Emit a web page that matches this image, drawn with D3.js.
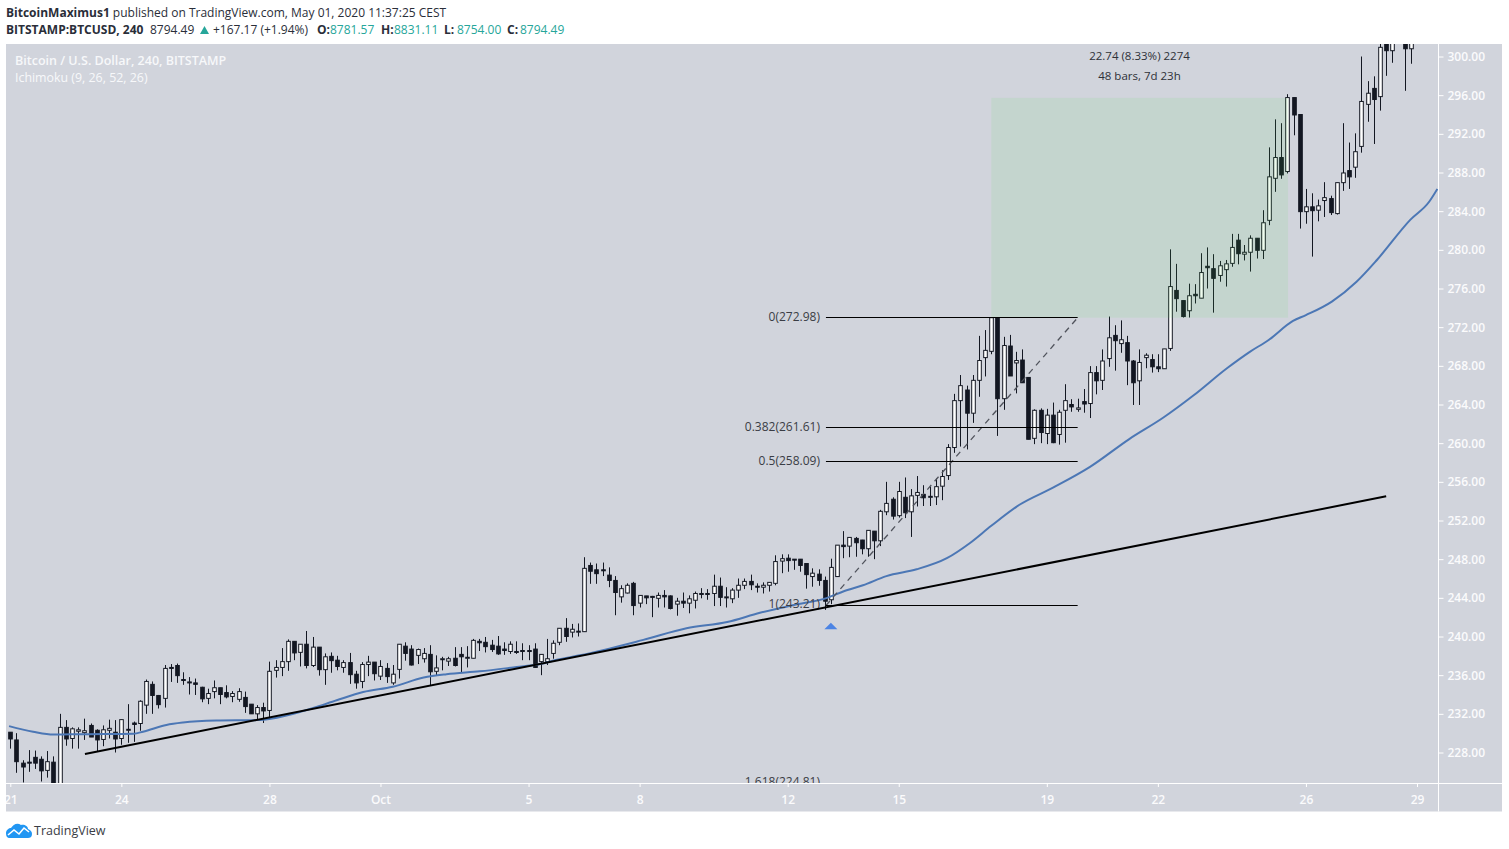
<!DOCTYPE html>
<html>
<head>
<meta charset="utf-8">
<script src="https://cdn.jsdelivr.net/npm/d3@7"></script>
<style>
  html, body { margin: 0; padding: 0; background: #fff; }
  svg { display: block; }
  text { font-family: "Open Sans", sans-serif; }
</style>
</head>
<body>
<svg id="chart"></svg>
<script>
// 4h bars, one entry per bar starting at Sep 21
const barOpen = [
  230.1,229.3,226.9,227,227.5,227.3,226.15,227,224,230.6,
  229.45,230.2,230.05,230.8,230.3,229.35,230.3,230.1,229.45,230.4,
  231.05,231,232.9,235.05,233.9,233.6,236.8,237,235.55,235.3,
  235.2,234.75,233.6,234.3,234.7,234.2,233.8,233.5,233.7,233,
  232,232.65,232.35,236.5,236.8,237.4,239.5,238.36,239.2,237,
  238.9,236.57,237.95,237.55,236.8,237.3,236.1,235.35,237.1,237.35,
  235.9,236.7,235.2,236.6,239,238.7,238.05,237.7,238.15,236.4,
  237.7,237.45,237.75,238.15,237.85,237.75,239.5,239.4,239.1,239,
  238.7,238.45,238.45,238.55,238.55,238.7,237.4,237.4,238.25,239.4,
  240.85,240.45,240.55,240.5,247.35,246.9,246.9,246.35,245.8,244.1,
  244.5,245.5,243.45,244.2,244.15,243.95,244.25,244.2,243.35,243.65,
  243.45,243.75,244.45,244.45,244.45,245.2,244.1,243.9,244.8,245.3,
  245.7,245.2,245.1,245.3,245.5,247.8,248.1,248,248,247.55,
  246.2,246.45,245.8,243.8,246.2,249.45,249.35,250.15,249.98,249.08,
  250.9,249.9,252.9,254.2,252.5,254.4,252.9,254.6,254.7,254.5,
  254.45,255.55,256.65,259.55,264.4,265.5,263.1,266.5,268.85,269.5,
  272.98,264.6,270.05,268.3,268.6,266.8,260.5,263.4,261,262.9,
  260.9,263.4,264,263.5,264.3,264.1,267.3,266.5,268.75,271.15,
  270.3,270.4,268.5,266.45,268.85,268.65,267.9,267.7,269.8,275.8,
  274.75,273.7,275.4,275,278.3,278.05,277.35,277.95,278.6,281,
  279.55,279.75,281.2,279.95,283.05,287.4,289.55,288.1,295.75,294,
  283.95,284.45,284.1,285.1,285.3,283.75,286.95,288.2,288.55,290.7,
  295.05,296.7,295.85,302,300.6,303.5,302.5,300.8
]
const barHigh = [
  230.1,230,227.2,228.25,228.2,227.6,228.15,227.6,232,231.35,
  230.6,230.6,231.5,231,230.4,230.8,231.4,231.35,231.4,233,
  231.2,233.4,235.55,235.35,233.95,237.05,237.15,237.2,236.3,235.8,
  235.65,234.8,234.6,235.45,234.7,234.95,234.35,234.65,234.3,233,
  232.9,233.15,237.4,237.55,238.8,239.7,239.5,239.2,240.57,239.95,
  238.9,238.25,238.35,238,237.55,238.3,236.45,237.35,238,237.35,
  237.55,237.25,237.05,239.2,239.4,239.1,238.75,238.8,239.1,238.05,
  237.9,237.9,238.9,238.9,239,239.75,239.75,239.95,239.65,240.05,
  239.4,239.5,239.5,239.3,239.1,239.3,238.15,239.75,239.6,240.85,
  241.9,241.3,241.35,248.2,247.65,247.55,247.65,247.15,246.25,245.3,
  245.5,245.65,244.25,244.2,244.2,244.55,244.8,244.25,244,244.55,
  244.25,244.65,245,244.9,246.4,246.1,245.1,245,246,246,
  246.4,245.5,245.6,245.6,248.4,248.5,248.5,248,248,247.55,
  247.05,246.95,246.2,248.05,249.45,250.9,250.25,250.3,250,250.98,
  250.9,253.1,256,254.4,256,256.45,255.25,256.6,255.65,255.5,
  256.35,257.2,259.9,265.1,267.05,265.95,267.05,271.1,271.7,273,
  273,271,271.2,269.45,269.7,266.8,263.5,263.6,263.55,264.2,
  263.45,266.1,264.55,264.6,265.6,267.97,267.97,269.7,273.1,272.2,
  272.7,271.1,268.6,269.7,269.3,269.2,269.2,269.75,280.05,278.55,
  274.75,276.5,276.45,279.65,280.25,279.55,278.85,278.95,281.65,281.65,
  280.5,281.5,281.2,284.1,290.6,293.5,293.1,296.1,295.75,294,
  286.3,285.85,285.2,287,285.6,286.95,293.1,291.1,292.05,300,
  297.45,297.95,301.4,303,303,304,303,303
]
const barLow = [
  228.4,225.9,224.9,226,226.3,225,225.4,224,224,228.7,
  228.4,228.4,229.3,229.6,228.1,228.65,229.45,228,228.8,229,
  229.1,230.25,232,232,232.55,232.65,235.3,235.2,235,234,
  233.95,233.2,233,233.6,233,233.6,233.2,233.25,232.1,232,
  231.4,231.05,231.4,235.75,235.9,236.45,237.55,236.9,236.7,236.85,
  235.95,235,236.25,236.5,236.25,235.1,234.6,234.65,235.9,235.45,
  235.5,235.2,235,235.65,237.5,237,237.15,237.3,234.95,236,
  236.5,236.95,236.9,236.25,236.8,237.75,238.5,238.35,238.4,238.1,
  238.1,238.2,238.2,237.55,237.55,236.75,236,237.05,237.7,239.1,
  239.45,239.9,240,240.5,245.45,245.45,246.25,245.1,242.2,243.5,
  244.45,242.2,243,243.35,242,243,243,242.8,242.15,242.95,
  242.4,242.9,243.95,243.8,243.15,243.15,243,243.45,244,244.9,
  244.8,244.55,244.45,244.65,245.3,246.55,246.7,246.9,246.7,244.95,
  245.15,245.25,242.75,243.35,246.2,248.1,248.2,248.25,248.5,248.25,
  248,249.35,252.55,252.1,252.3,252.25,250.3,253.45,253.5,253.5,
  253.6,254.1,256.2,259,259.65,259.35,262.1,264.8,266.9,269.2,
  260.75,263.45,266.95,265.15,266.25,260.4,259.9,260,259.9,260,
  259.85,260.05,263.25,263.25,263.15,262.6,265.05,265.5,267.9,267.5,
  269.35,266,263.95,263.95,267.75,267.3,267.35,267.7,269.55,273.6,
  273,273,274.45,275,276,273.5,276.7,276.2,278.25,278.5,
  278.9,277.75,279.1,279.05,282.55,286,287.35,287.9,291.85,282.2,
  282.7,279.3,282.95,283.4,283.6,283.65,286.1,286.3,287.45,290.05,
  293.25,290.95,294.4,298,299.35,302.5,296.45,299.25
]
const barClose = [
  229.4,227.05,226.5,226.9,226.9,226.1,227.05,224.5,230.6,229.4,
  230.45,230.35,230.25,229.6,229.3,230.35,230.5,229.4,231.4,230.4,
  230.9,233.3,235.35,233.9,232.95,236.7,236.7,235.95,235.45,235.25,
  235.05,233.55,234.1,234.7,234,233.75,234.1,234.3,232.75,232,
  232.65,232.3,236.4,236.8,237.4,239.5,238.3,239.2,237,238.9,
  236.57,237.9,237.5,236.9,237.3,236.05,235.2,237.1,237.35,236.15,
  236.9,235.85,236.1,239.2,238.25,237.05,238.65,238.25,236.35,236.75,
  237.7,237.7,237,237.9,237.85,239.6,239.35,238.95,238.65,238.2,
  238.55,239.2,238.35,238.45,238.55,236.8,238.15,237.7,239.3,240.85,
  240,240.75,240.55,247.05,246.75,246.5,246.8,245.8,244.55,244.95,
  245.3,243.2,244.25,244,244.1,244.25,244.1,242.9,243.65,243.45,
  243.9,244.45,244.45,244.45,245.2,244.05,244.1,244.8,245.3,245.7,
  245.35,245.1,245.3,245.6,247.75,248.05,247.85,247.9,247.35,246.4,
  246.55,245.8,243.65,247.15,249.45,249.3,250.25,249.7,249.08,250.98,
  249.9,252.95,253.77,252.45,255,252.8,254.55,254.9,254.35,254.5,
  255.5,256.55,259.55,264.4,265.95,263.1,266.5,268.55,269.6,272.98,
  264.6,270.1,266.95,268.55,266.25,260.4,263.4,261.1,262.9,260.05,
  263.2,264.4,263.75,263.65,264.05,267.3,266.45,268.5,270.9,270.6,
  270.7,268.5,266.25,268.35,269.1,267.9,267.7,269.75,276.2,274.95,
  273.1,275.25,275.25,277.65,278.15,277.05,278.35,278.55,280.25,279.6,
  279.75,281.2,279.95,282.8,287.55,289.55,287.75,295.75,293.95,283.95,
  284.45,284.05,284.55,285.4,283.85,286.95,287.95,287.55,290.15,295.35,
  296.2,295.55,300.95,300.6,302,303,300.8,302.2
]

// blue moving average at these bars
const maBar = [-0.2,3.7,7,11.8,20,21.5,25.3,28,33.4,40,43.2,47,49.1,52.9,57.2,62,67,70.7,76.1,81.5,85.9,88.6,92.3,102.6,109.6,116.2,121.5,127,132.4,135,138.2,142,146.9,151.8,155.5,159,163.5,169,175,181.3,186.9,191.8,197.2,200.9,203.9,207.9,210,214.2,218.2,221.5,226.9,230,231.3]
const maPrice = [230.73,230.15,229.85,229.9,229.95,230.15,230.85,231.1,231.3,231.35,231.6,232.2,232.6,233.4,234.25,234.8,235.75,236.1,236.4,236.8,237.15,237.6,238.05,239.65,240.85,241.5,242.45,243.25,244,244.65,245.3,246.25,246.95,248.1,249.65,251.45,253.6,255.4,257.55,260.4,262.65,264.95,267.75,269.45,270.65,272.65,273.25,274.65,276.7,278.95,283.1,285,286.3]

const trendBar = [12.1, 223]
const trendPrice = [227.85, 254.5]

const fibLabels = ["0(272.98)", "0.382(261.61)", "0.5(258.09)", "1(243.21)", "1.618(224.81)"]
const fibPrices = [272.98, 261.61, 258.09, 243.21, 224.81]
const fibBars = [132.2, 173]

const rangeBars = [159, 207.1]
const rangePrices = [272.98, 295.72]
const rangeLabels = ["22.74 (8.33%) 2274", "48 bars, 7d 23h"]

const signalBar = 133
const signalPrice = 241.43

const dateBars = [0, 18, 42, 60, 84, 102, 126, 144, 168, 186, 210, 228]
const dateLabels = ["21", "24", "28", "Oct", "5", "8", "12", "15", "19", "22", "26", "29"]
const priceTicks = [300, 296, 292, 288, 284, 280, 276, 272, 268, 264, 260, 256, 252, 248, 244, 240, 236, 232, 228]

const ohlcLabels = ["O:", "H:", "L:", "C:"]
const ohlcValues = ["8781.57", "8831.11", "8754.00", "8794.49"]

const width = 1509
const height = 849
const plot = { left: 6, right: 1502, top: 44, bottom: 811.5, axisX: 1438, axisY: 783 }

const darkColor = "#131722"
const paneColor = "#d1d4dc"
const teal = "#26a69a"

const svg = d3.select("#chart").attr("width", width).attr("height", height)

const xScale = d3.scaleLinear().domain([0, 228]).range([10.3, 1417])
const yScale = d3.scaleLinear().domain([228, 300]).range([752.5, 56.5])

svg.append("rect")
  .attr("x", plot.left)
  .attr("y", plot.top)
  .attr("width", plot.right - plot.left)
  .attr("height", plot.bottom - plot.top)
  .attr("fill", paneColor)

const defs = svg.append("defs")
defs.append("clipPath").attr("id", "chartClip").append("rect")
  .attr("x", plot.left)
  .attr("y", plot.top)
  .attr("width", plot.axisX - plot.left)
  .attr("height", plot.axisY - plot.top)
defs.append("clipPath").attr("id", "paneClip").append("rect")
  .attr("x", plot.left)
  .attr("y", plot.top)
  .attr("width", plot.right - plot.left)
  .attr("height", plot.bottom - plot.top)

// legend text in the top corner of the pane
svg.append("text")
  .attr("x", 15).attr("y", 65)
  .attr("font-size", 12.5)
  .attr("font-weight", 600)
  .attr("fill", "#f7f8fa")
  .text("Bitcoin / U.S. Dollar, 240, BITSTAMP")
svg.append("text")
  .attr("x", 15).attr("y", 82)
  .attr("font-size", 12.4)
  .attr("fill", "#f7f8fa")
  .text("Ichimoku (9, 26, 52, 26)")

const g = svg.append("g").attr("clip-path", "url(#chartClip)")

const bars = g.append("g").attr("id", "bars")
  .selectAll("g")
  .data(barOpen.map((open, i) => ({ i, open, high: barHigh[i], low: barLow[i], close: barClose[i] })))
  .enter()
  .append("g")

const barX = d => Math.round(xScale(d.i)) + 0.5

bars.append("line")
  .attr("x1", barX)
  .attr("x2", barX)
  .attr("y1", d => yScale(d.high))
  .attr("y2", d => yScale(d.low))
  .attr("stroke", darkColor)
  .attr("stroke-width", 1)

bars.append("rect")
  .attr("x", d => barX(d) - 1.8)
  .attr("width", 3.6)
  .attr("y", d => yScale(Math.max(d.open, d.close)))
  .attr("height", d => Math.max(Math.abs(yScale(d.open) - yScale(d.close)), 1))
  .attr("fill", d => d.close >= d.open ? "#ffffff" : darkColor)
  .attr("stroke", darkColor)
  .attr("stroke-width", 1)

// moving average
const maLine = d3.line()
  .x(d => xScale(d[0]))
  .y(d => yScale(d[1]))
  .curve(d3.curveMonotoneX)
g.append("path")
  .attr("d", maLine(maBar.map((b, i) => [b, maPrice[i]])))
  .attr("fill", "none")
  .attr("stroke", "#4c77b5")
  .attr("stroke-width", 2)

// measured range box, sits over the candles
g.append("rect")
  .attr("x", xScale(rangeBars[0]))
  .attr("y", yScale(rangePrices[1]))
  .attr("width", xScale(rangeBars[1]) - xScale(rangeBars[0]))
  .attr("height", yScale(rangePrices[0]) - yScale(rangePrices[1]))
  .attr("fill", "#59de5a")
  .attr("fill-opacity", 0.1)

svg.selectAll(".rangeLabel")
  .data(rangeLabels)
  .enter()
  .append("text")
  .attr("class", "rangeLabel")
  .attr("x", 1139.5)
  .attr("y", (d, i) => 60 + i * 20)
  .attr("text-anchor", "middle")
  .attr("font-size", 11.5)
  .attr("fill", "#2e3138")
  .text(d => d)

// fib levels
const fib = g.append("g").attr("id", "fib")

fib.append("line")
  .attr("x1", xScale(fibBars[0]))
  .attr("x2", xScale(fibBars[1]))
  .attr("y1", yScale(fibPrices[3]))
  .attr("y2", yScale(fibPrices[0]))
  .attr("stroke", "#50535c")
  .attr("stroke-width", 1.3)
  .attr("stroke-dasharray", "6 5")

fib.selectAll(".level")
  .data(fibPrices)
  .enter()
  .append("line")
  .attr("class", "level")
  .attr("x1", xScale(fibBars[0]))
  .attr("x2", xScale(fibBars[1]))
  .attr("y1", d => Math.floor(yScale(d)) + 0.5)
  .attr("y2", d => Math.floor(yScale(d)) + 0.5)
  .attr("stroke", "#000")
  .attr("stroke-width", 1)

fib.selectAll(".levelLabel")
  .data(fibPrices)
  .enter()
  .append("text")
  .attr("class", "levelLabel")
  .attr("x", xScale(fibBars[0]) - 6)
  .attr("y", d => yScale(d) + 3)
  .attr("text-anchor", "end")
  .attr("font-size", 12)
  .attr("fill", "#3a3d45")
  .text((d, i) => fibLabels[i])

// trend line
g.append("line")
  .attr("x1", xScale(trendBar[0]))
  .attr("x2", xScale(trendBar[1]))
  .attr("y1", yScale(trendPrice[0]))
  .attr("y2", yScale(trendPrice[1]))
  .attr("stroke", "#000")
  .attr("stroke-width", 2)

// signal arrow under the low
const sigX = xScale(signalBar)
const sigY = yScale(signalPrice)
g.append("path")
  .attr("d", `M${sigX},${sigY}l6.5,6.5h-13z`)
  .attr("fill", "#4c84e4")

// axes
const yAxis = d3.axisRight(yScale)
  .tickValues(priceTicks)
  .tickSize(5)
  .tickPadding(4)
  .tickFormat(d3.format(".2f"))

const xAxis = d3.axisBottom(xScale)
  .tickValues(dateBars)
  .tickSize(3.5)
  .tickPadding(8)
  .tickFormat((d, i) => dateLabels[i])

svg.append("g")
  .attr("clip-path", "url(#paneClip)")
  .append("g")
  .attr("class", "axis")
  .attr("transform", `translate(${plot.axisX + 0.5},0)`)
  .call(yAxis)

svg.append("g")
  .attr("clip-path", "url(#paneClip)")
  .append("g")
  .attr("class", "axis")
  .attr("transform", `translate(0,${plot.axisY + 0.5})`)
  .call(xAxis)

svg.selectAll(".axis .domain").remove()
svg.selectAll(".axis line").attr("stroke", "#fff")
svg.selectAll(".axis text")
  .attr("fill", "#fbfbfc")
  .attr("font-size", 12)
  .attr("font-weight", 600)
  .attr("font-family", "\"Open Sans\", sans-serif")

svg.append("line")
  .attr("x1", plot.axisX + 0.5).attr("x2", plot.axisX + 0.5)
  .attr("y1", plot.top).attr("y2", plot.bottom)
  .attr("stroke", "#fff")
svg.append("line")
  .attr("x1", plot.left).attr("x2", plot.right)
  .attr("y1", plot.axisY + 0.5).attr("y2", plot.axisY + 0.5)
  .attr("stroke", "#fff")

// header lines
const head1 = svg.append("text").attr("x", 6).attr("y", 17).attr("font-size", 12).attr("fill", "#2a2e39")
head1.append("tspan").attr("font-weight", 700).text("BitcoinMaximus1")
head1.append("tspan").text(" published on TradingView.com, May 01, 2020 11:37:25 CEST")

const head2 = svg.append("text").attr("y", 34).attr("font-size", 12).attr("fill", "#2a2e39")
head2.append("tspan").attr("x", 6).attr("font-weight", 700).text("BITSTAMP:BTCUSD, 240")
head2.append("tspan").attr("x", 150).text("8794.49")
head2.append("tspan").attr("x", 213).text("+167.17 (+1.94%)")
const ohlcX = [317, 381, 444, 507]
ohlcLabels.forEach((label, i) => {
  head2.append("tspan").attr("x", ohlcX[i]).attr("font-weight", 700).text(label)
  head2.append("tspan").attr("x", ohlcX[i] + 13).attr("fill", teal).text(ohlcValues[i])
})
svg.append("path").attr("d", "M200,34l4.5,-8l4.5,8z").attr("fill", teal)

// footer logo
svg.append("path")
  .attr("d", "M6,833c0,-3 3,-5 5,-5c2,-3 6,-6 10,-3c3,-1 7,1 7,4c3,1 4,3 4,5c0,3 -2,4 -4,4h-18c-3,0 -4,-2 -4,-5z")
  .attr("fill", "#2196f3")
svg.append("path")
  .attr("d", "M8,835l6,-5l5,4l5,-6l5,4")
  .attr("fill", "none")
  .attr("stroke", "#fff")
  .attr("stroke-width", 1.6)
svg.append("text")
  .attr("x", 34).attr("y", 835)
  .attr("font-size", 12.5)
  .attr("fill", "#3a3d45")
  .text("TradingView")
</script>
</body>
</html>
